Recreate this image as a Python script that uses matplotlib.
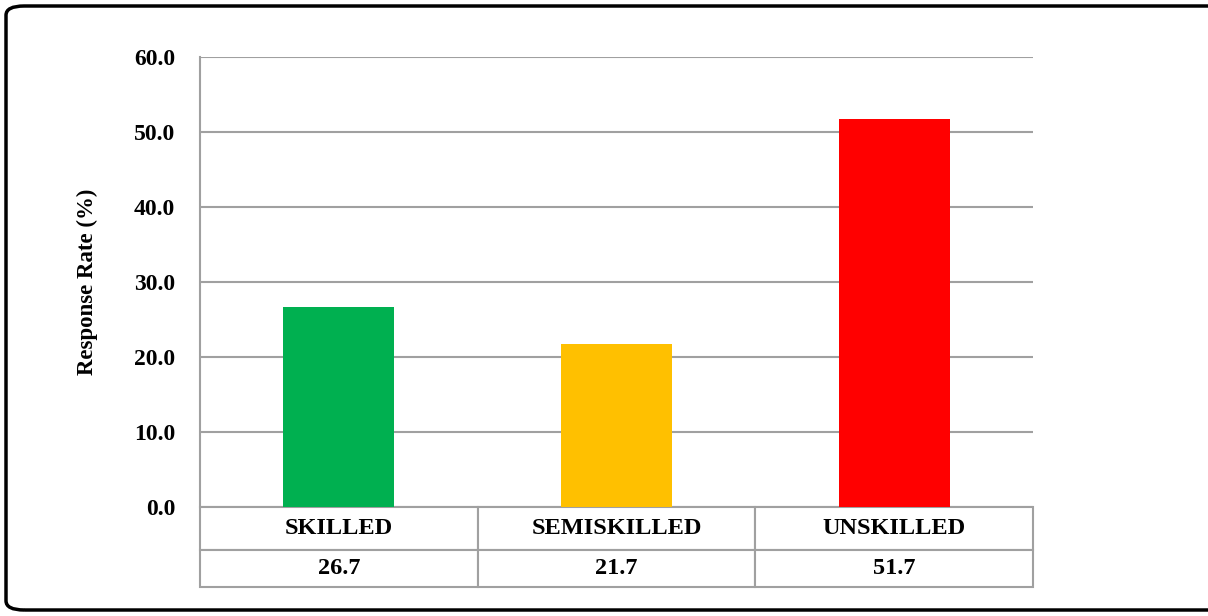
import matplotlib
matplotlib.use("Agg")
import matplotlib.pyplot as plt
from matplotlib.patches import FancyBboxPatch

categories = ["SKILLED", "SEMISKILLED", "UNSKILLED"]
rates = [26.7, 21.7, 51.7]
bar_colors = ["#00b050", "#ffc000", "#ff0000"]
yticks = [0, 10, 20, 30, 40, 50, 60]

plt.rcParams['font.family'] = ['Liberation Serif', 'DejaVu Serif']
plt.rcParams['font.weight'] = 'bold'

fig = plt.figure(figsize=(12.08, 6.16), dpi=100)
ax = fig.add_axes([200/1208, 1 - 507/616, 833/1208, 450/616])

x = range(len(categories))
ax.bar(x, rates, width=0.4, color=bar_colors, zorder=3)
ax.set_xlim(-0.5, len(categories) - 0.5)
ax.set_ylim(0, 60)
ax.set_yticks(yticks)
ax.set_yticklabels([f"{v:.1f}" for v in yticks], fontsize=17, fontweight='bold')
ax.set_xticks([])
ax.tick_params(axis='y', length=0, pad=18)
ax.yaxis.grid(True, color='#a0a0a0', linewidth=1.5, zorder=0)
for side in ['top', 'right', 'bottom']:
    ax.spines[side].set_visible(False)
ax.spines['left'].set_color('#a0a0a0')
ax.spines['left'].set_linewidth(1.5)
ax.set_ylabel("Response Rate (%)", fontsize=16.5, fontweight='bold')
ax.yaxis.set_label_coords(-0.122, 0.5)

# data table under the plot
tbl = ax.table(cellText=[categories, [f"{v:.1f}" for v in rates]],
               cellLoc='center', bbox=[0, -80/450, 1, 80/450])
tbl.auto_set_font_size(False)
for (r, c), cell in tbl.get_celld().items():
    cell.set_edgecolor('#a0a0a0')
    cell.set_linewidth(1.5)
    cell.get_text().set_fontsize(17.5)
    cell.get_text().set_fontweight('bold')
    cell.set_height(43/450 if r == 0 else 37/450)

# rounded frame around the figure
frame = FancyBboxPatch((6/1208, 6/616), 1.02, 1 - 12/616,
                       boxstyle="round,pad=0,rounding_size=0.015",
                       transform=fig.transFigure, fill=False,
                       edgecolor='black', linewidth=2.5)
fig.patches.append(frame)

fig.savefig("out.png", dpi=100)
